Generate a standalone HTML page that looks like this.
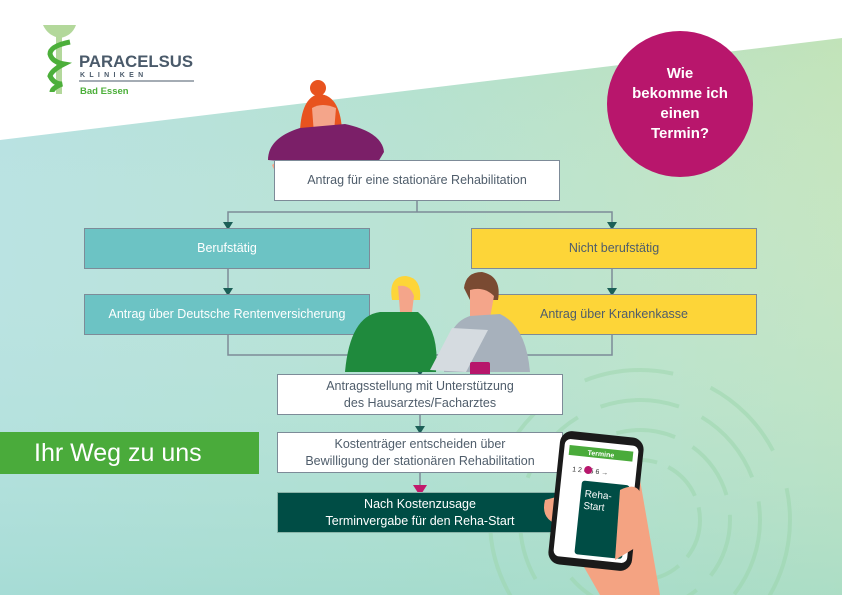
<!DOCTYPE html>
<html style="overflow:hidden"><head><meta charset="utf-8"><style>
html,body{margin:0;width:842px;height:595px;overflow:hidden}
body{font-family:"Liberation Sans",sans-serif;position:relative}
svg{display:block}
.b{position:absolute;box-sizing:border-box;display:flex;align-items:center;justify-content:center;text-align:center;font-size:12.5px;line-height:17px;color:#4f5d6b}
.w{background:#fff;border:1.5px solid #7d8b98}
.t{background:#6cc3c4;border:1.5px solid #7d8b98;color:#fff}
.y{background:#fdd538;border:1.5px solid #7d8b98;color:#4f5d6b}
</style></head><body>
<svg width="842" height="595" style="position:absolute;left:0;top:0">
<defs><linearGradient id="g" x1="0" x2="1" y1="0" y2="0"><stop offset="0" stop-color="#b1dfdf"/><stop offset="0.5" stop-color="#b0dfcc"/><stop offset="1" stop-color="#bfe2b6"/></linearGradient>
<linearGradient id="g2" x1="0" x2="0" y1="0" y2="1"><stop offset="0" stop-color="#fff" stop-opacity="0"/><stop offset="1" stop-color="#9fdacf" stop-opacity="0.6"/></linearGradient></defs>
<rect width="842" height="595" fill="url(#g)"/>
<rect width="842" height="595" fill="url(#g2)"/>
<polygon points="0,0 842,0 842,38 0,140" fill="#fff"/>
<g fill="none" stroke="#9bd6ac" stroke-width="4" opacity="0.5">
<circle cx="640" cy="520" r="60" stroke-dasharray="40 12"/><circle cx="640" cy="520" r="90" stroke-dasharray="60 20"/><circle cx="640" cy="520" r="120" stroke-dasharray="80 25"/><circle cx="640" cy="520" r="150" stroke-dasharray="90 40"/></g>
<!-- logo -->
<path d="M43 25 L76 25 Q72 36 60 38 Q48 36 43 25Z" fill="#b3d89b"/>
<rect x="56" y="36" width="6" height="58" fill="#b3d89b"/>
<path d="M70 42 Q50 46 50 54 Q52 62 64 64 Q52 70 50 76 Q54 84 62 84 Q52 88 52 92" stroke="#4caf3a" stroke-width="5" fill="none"/>
<text x="79" y="67" font-size="17" font-weight="bold" fill="#4a5a6a" textLength="114" lengthAdjust="spacingAndGlyphs">PARACELSUS</text>
<text x="80" y="77" font-size="7" font-weight="bold" fill="#4a5a6a" letter-spacing="4.3">KLINIKEN</text>
<line x1="79" y1="81" x2="194" y2="81" stroke="#4a5a6a"/>
<text x="80" y="94" font-size="9.5" font-weight="bold" fill="#4caf3a">Bad Essen</text>
<!-- woman top -->
<circle cx="318" cy="88" r="8" fill="#e8531f"/>
<path d="M300 130 Q302 96 320 94 Q340 96 342 130Z" fill="#e8531f"/>
<path d="M312 108 Q322 102 336 108 L334 132 L314 134Z" fill="#f4a58a"/>
<path d="M268 160 Q268 138 300 128 L345 124 Q382 132 384 152 L378 162 L290 162Z" fill="#7b1f68"/>
<path d="M272 165 Q278 160 290 162 L286 176 Q276 176 272 165Z" fill="#f4a58a"/>
<!-- connectors -->
<g stroke="#7d8b98" stroke-width="1.5" fill="none">
<path d="M417 200 V212 M228 228 V212 H612 V228"/>
<path d="M228 269 V294 M612 269 V294"/>
<path d="M228 335 V355 H612 V335 M420 355 V374"/>
<path d="M420 414 V432 M420 472 V492"/>
</g>
<g fill="#1c5f57">
<polygon points="223,222 233,222 228,230"/><polygon points="607,222 617,222 612,230"/>
<polygon points="223,288 233,288 228,296"/><polygon points="607,288 617,288 612,296"/>
<polygon points="415,368 425,368 420,376"/><polygon points="415,426 425,426 420,434"/>
</g>
<polygon points="413,485 427,485 420,496" fill="#c2186b"/>
</svg>
<div class="b w" style="left:274px;top:160px;width:286px;height:41px">Antrag für eine stationäre Rehabilitation</div>
<div class="b t" style="left:84px;top:228px;width:286px;height:41px">Berufstätig</div>
<div class="b y" style="left:471px;top:228px;width:286px;height:41px">Nicht berufstätig</div>
<div class="b t" style="left:84px;top:294px;width:286px;height:41px">Antrag über Deutsche Rentenversicherung</div>
<div class="b y" style="left:471px;top:294px;width:286px;height:41px">Antrag über Krankenkasse</div>
<svg width="842" height="595" style="position:absolute;left:0;top:0">
<path d="M392 300 Q388 276 406 276 Q422 278 420 300Z" fill="#fdd538"/>
<path d="M398 286 Q410 284 414 296 L412 312 L400 312Z" fill="#f4a58a"/>
<path d="M345 372 Q350 316 380 312 L418 312 Q440 330 436 372Z" fill="#1f8a3d"/>
<path d="M464 288 Q466 272 482 272 Q502 276 498 300 L470 300Z" fill="#7a4a32"/>
<path d="M470 290 Q484 286 494 296 L490 318 L470 316Z" fill="#f4a58a"/>
<path d="M444 372 Q444 324 470 316 L500 314 Q526 326 530 372Z" fill="#a7b1bc"/>
<polygon points="430,370 452,328 488,330 466,372" fill="#d5dbe0"/>
<rect x="470" y="362" width="20" height="18" rx="2" fill="#b7166b"/>
</svg>
<div class="b w" style="left:277px;top:374px;width:286px;height:41px">Antragsstellung mit Unterstützung<br>des Hausarztes/Facharztes</div>
<div class="b w" style="left:277px;top:432px;width:286px;height:41px">Kostenträger entscheiden über<br>Bewilligung der stationären Rehabilitation</div>
<div class="b" style="left:277px;top:492px;width:286px;height:41px;background:#004d45;color:#fff;border:1.5px solid #8bb5aa">Nach Kostenzusage<br>Terminvergabe für den Reha-Start</div>
<div class="b" style="left:0;top:432px;width:259px;height:42px;background:#4aab3b;color:#fff;font-size:25px;justify-content:flex-start;padding-left:34px">Ihr Weg zu uns</div>
<div class="b" style="left:607px;top:31px;width:146px;height:146px;border-radius:50%;background:#b8166c;color:#fff;font-weight:bold;font-size:15px;line-height:20px">Wie<br>bekomme ich<br>einen<br>Termin?</div>
<svg width="842" height="595" style="position:absolute;left:0;top:0">
<path d="M545 500 Q540 520 560 525 L600 595 L660 595 L640 480 Q632 470 620 480Z" fill="#f4a382"/>
<g transform="rotate(6 596 501)">
<rect x="554" y="434" width="84" height="134" rx="12" fill="#1a1a1a"/>
<rect x="559" y="442" width="74" height="118" rx="6" fill="#fff"/>
<rect x="564" y="448" width="64" height="10" fill="#4aab3b"/>
<text x="596" y="456" font-size="7" fill="#fff" text-anchor="middle" font-weight="bold">Termine</text>
<text x="569" y="474" font-size="7" fill="#333">1 2   4 5 6 →</text>
<circle cx="585" cy="471" r="4" fill="#b8166c"/>
<rect x="580" y="482" width="48" height="74" rx="3" fill="#004d45"/>
<text x="584" y="498" font-size="10" fill="#fff">Reha-</text><text x="584" y="510" font-size="10" fill="#fff">Start</text>
</g>
<path d="M620 490 Q640 480 642 500 L640 545 L615 560Z" fill="#f4a382"/>
</svg>
</body></html>
